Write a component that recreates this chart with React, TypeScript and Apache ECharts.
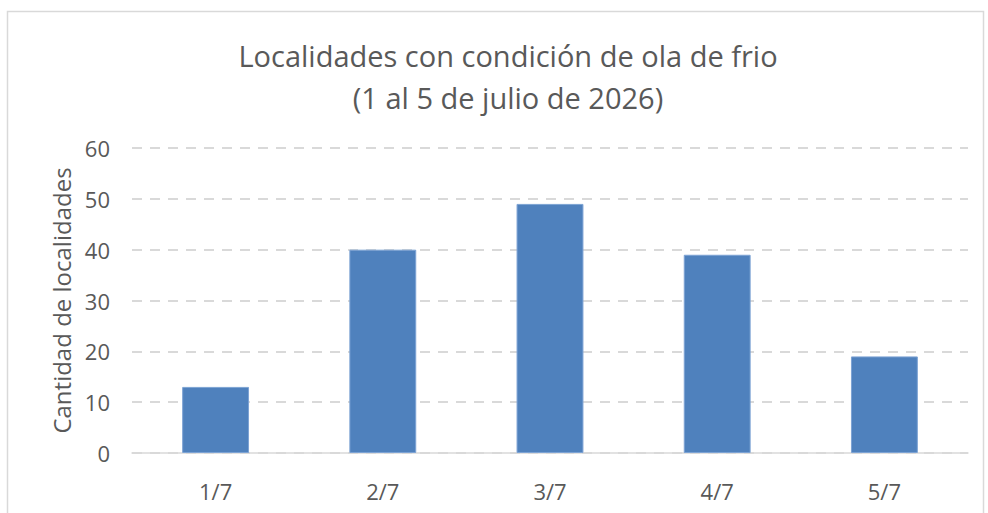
import React, { useEffect, useRef } from "react";
import * as echarts from "echarts";

const categories = ["1/7", "2/7", "3/7", "4/7", "5/7"];
const values = [13, 40, 49, 39, 19];
const titleLines = ["Localidades con condición de ola de frio", "(1 al 5 de julio de 2026)"];
const yAxisName = "Cantidad de localidades";

export default function App() {
  const ref = useRef<HTMLDivElement>(null);
  useEffect(() => {
    if (!ref.current) return;
    const chart = echarts.init(ref.current, null, { renderer: "svg" });
    const font = "'Open Sans', 'Noto Sans', sans-serif";
    chart.setOption({
      animation: false,
      backgroundColor: "#ffffff",
      textStyle: { fontFamily: font },
      graphic: [
        {
          type: "rect",
          shape: { x: 7.5, y: 11.5, width: 976, height: 510 },
          style: { fill: "none", stroke: "#d9d9d9", lineWidth: 1.5 },
          silent: true,
        },
      ],
      title: {
        text: titleLines.join("\n"),
        left: 503,
        top: 29,
        textAlign: "center",
        textStyle: {
          fontFamily: font,
          fontSize: 29,
          fontWeight: "normal",
          color: "#595959",
          lineHeight: 42,
        },
      },
      grid: { left: 132, right: 20, top: 148, bottom: 60 },
      xAxis: {
        type: "category",
        data: categories,
        axisLine: { lineStyle: { color: "#d9d9d9", width: 1.5 } },
        axisTick: { show: false },
        axisLabel: { color: "#595959", fontSize: 22, margin: 27, fontFamily: font },
      },
      yAxis: {
        type: "value",
        min: 0,
        max: 60,
        interval: 10,
        name: yAxisName,
        nameLocation: "middle",
        nameGap: 58,
        nameTextStyle: { color: "#595959", fontSize: 24, fontFamily: font },
        axisLine: { show: false },
        axisTick: { show: false },
        axisLabel: { color: "#595959", fontSize: 22, margin: 22, fontFamily: font },
        splitLine: { lineStyle: { color: "#d9d9d9", width: 2, type: [10, 8] } },
      },
      series: [
        {
          type: "bar",
          data: values,
          barWidth: "40%",
          itemStyle: { color: "#4f81bd", borderColor: "#7da3d4", borderWidth: 1 },
        },
      ],
    });
    return () => chart.dispose();
  }, []);
  return (
    <div
      ref={ref}
      style={{ position: "absolute", left: 0, top: 0, width: 988, height: 513 }}
    />
  );
}
